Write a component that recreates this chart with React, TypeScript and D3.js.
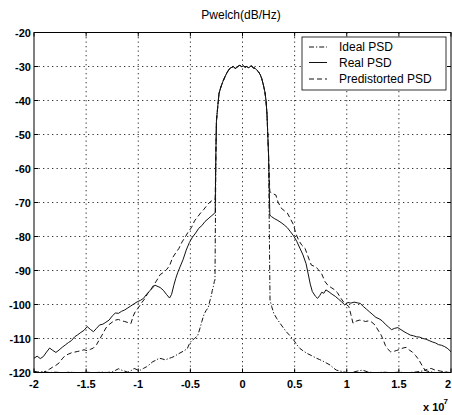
import React from 'react';
import * as d3 from 'd3';

// ---------- data (frequency in units of 1e7 Hz, PSD in dB/Hz) ----------
const X_TICKS = [-2, -1.5, -1, -0.5, 0, 0.5, 1, 1.5, 2];
const X_TICK_LABELS = ['-2', '-1.5', '-1', '-0.5', '0', '0.5', '1', '1.5', '2'];
const Y_TICKS = [-120, -110, -100, -90, -80, -70, -60, -50, -40, -30, -20];
const Y_TICK_LABELS = ['-120', '-110', '-100', '-90', '-80', '-70', '-60', '-50', '-40', '-30', '-20'];
const LEGEND_LABELS = ['Ideal PSD', 'Real PSD', 'Predistorted PSD'];

// shared main lobe
const mainLobe: [number, number][] = [
  [-0.255, -55], [-0.25, -46], [-0.245, -44.3], [-0.235, -41], [-0.225, -37.9], [-0.21, -36.3],
  [-0.2, -35.4], [-0.185, -34.2], [-0.168, -33.0], [-0.145, -31.6], [-0.12, -30.5], [-0.1, -30.2],
  [-0.088, -30.0], [-0.07, -30.6], [-0.056, -30.3], [-0.04, -29.9], [-0.024, -29.6], [-0.01, -30.1],
  [0.008, -29.8], [0.025, -30.2], [0.04, -30.0], [0.06, -30.4], [0.075, -29.9], [0.088, -29.9],
  [0.105, -30.4], [0.12, -30.5], [0.135, -31.0], [0.152, -31.5], [0.17, -32.4], [0.184, -33.5],
  [0.2, -35.4], [0.215, -37.5], [0.225, -39.9], [0.235, -44], [0.242, -49.6], [0.25, -56],
];

// Real PSD skirts
const realLeft: [number, number][] = [
  [-2.0, -115.8], [-1.97, -115.2], [-1.94, -115.9], [-1.91, -115.3], [-1.88, -114.0], [-1.85, -112.8],
  [-1.82, -113.5], [-1.79, -114.1], [-1.76, -113.4], [-1.73, -112.6], [-1.7, -111.9], [-1.67, -111.2],
  [-1.64, -110.6], [-1.61, -109.5], [-1.58, -108.9], [-1.55, -108.2], [-1.52, -107.6], [-1.49, -106.5],
  [-1.46, -107.3], [-1.43, -108.0], [-1.4, -107.0], [-1.37, -106.0], [-1.34, -105.8], [-1.31, -105.2],
  [-1.28, -104.6], [-1.25, -103.4], [-1.22, -102.5], [-1.19, -102.6], [-1.16, -102.0], [-1.13, -101.6],
  [-1.1, -101.0], [-1.07, -100.4], [-1.04, -99.8], [-1.01, -99.2], [-0.98, -98.8], [-0.95, -98.2],
  [-0.92, -97.0], [-0.89, -96.0], [-0.86, -95.0], [-0.84, -94.3], [-0.82, -94.6], [-0.79, -95.0],
  [-0.76, -95.8], [-0.73, -97.0], [-0.7, -98.1], [-0.68, -97.0], [-0.66, -94.5], [-0.64, -92.3],
  [-0.62, -90.5], [-0.6, -89.0], [-0.57, -86.8], [-0.54, -84.0], [-0.51, -81.8], [-0.48, -80.2],
  [-0.45, -79.0], [-0.42, -77.6], [-0.39, -76.8], [-0.36, -75.6], [-0.33, -74.8], [-0.3, -74.0],
  [-0.27, -73.2], [-0.262, -73.0],
];
const realRight: [number, number][] = [
  [0.262, -73.7], [0.28, -74.2], [0.31, -74.8], [0.34, -75.3], [0.37, -75.9], [0.4, -76.6],
  [0.43, -77.4], [0.46, -78.6], [0.49, -79.8], [0.52, -81.4], [0.55, -83.4], [0.58, -85.4],
  [0.61, -88.0], [0.63, -91.0], [0.65, -94.0], [0.67, -96.2], [0.7, -97.6], [0.72, -98.2],
  [0.74, -97.4], [0.76, -96.4], [0.78, -96.7], [0.8, -95.7], [0.83, -96.3], [0.86, -97.0],
  [0.89, -97.6], [0.92, -98.4], [0.95, -99.2], [0.98, -100.1], [1.01, -99.4], [1.04, -99.6],
  [1.07, -99.3], [1.1, -99.5], [1.13, -99.7], [1.16, -100.6], [1.19, -101.4], [1.22, -102.2],
  [1.25, -103.0], [1.28, -103.8], [1.31, -104.2], [1.34, -104.8], [1.37, -105.8], [1.4, -106.6],
  [1.43, -107.4], [1.46, -107.0], [1.49, -106.8], [1.52, -107.4], [1.55, -108.0], [1.58, -108.5],
  [1.61, -109.0], [1.64, -109.2], [1.67, -109.5], [1.7, -109.6], [1.73, -110.0], [1.76, -110.2],
  [1.79, -110.6], [1.82, -111.0], [1.85, -111.3], [1.88, -111.8], [1.91, -112.0], [1.94, -112.4],
  [1.97, -113.0], [2.0, -113.9],
];

// Predistorted PSD skirts
const preLeft: [number, number][] = [
  [-2.0, -119.8], [-1.97, -120.0], [-1.94, -119.6], [-1.91, -120.0], [-1.88, -119.5], [-1.85, -119.0],
  [-1.82, -118.4], [-1.79, -117.9], [-1.76, -117.2], [-1.73, -116.0], [-1.7, -115.0], [-1.67, -114.6],
  [-1.64, -114.2], [-1.61, -114.0], [-1.58, -113.8], [-1.55, -113.6], [-1.52, -113.3], [-1.49, -113.6],
  [-1.46, -113.2], [-1.43, -112.8], [-1.4, -111.8], [-1.37, -110.2], [-1.34, -108.6], [-1.31, -106.9],
  [-1.28, -105.9], [-1.25, -105.2], [-1.22, -104.6], [-1.19, -104.4], [-1.16, -104.8], [-1.13, -105.0],
  [-1.1, -105.3], [-1.07, -105.6], [-1.05, -103.5], [-1.03, -102.2], [-1.0, -101.0], [-0.97, -99.6],
  [-0.94, -98.4], [-0.91, -96.8], [-0.88, -95.6], [-0.85, -94.2], [-0.82, -92.8], [-0.79, -91.2],
  [-0.76, -90.6], [-0.73, -89.8], [-0.7, -88.6], [-0.67, -86.2], [-0.64, -84.8], [-0.61, -83.5],
  [-0.58, -81.6], [-0.55, -80.2], [-0.52, -78.6], [-0.49, -77.4], [-0.46, -75.4], [-0.43, -74.2],
  [-0.4, -73.0], [-0.37, -72.0], [-0.34, -70.8], [-0.31, -69.8], [-0.28, -69.2], [-0.262, -69.0],
];
const preRight: [number, number][] = [
  [0.262, -66.8], [0.29, -67.4], [0.32, -67.8], [0.34, -69.8], [0.37, -71.6], [0.4, -72.4],
  [0.43, -73.1], [0.46, -74.8], [0.49, -76.6], [0.51, -79.0], [0.54, -81.2], [0.57, -82.6],
  [0.6, -83.5], [0.63, -86.0], [0.66, -88.4], [0.7, -88.9], [0.73, -89.8], [0.76, -91.0],
  [0.79, -93.2], [0.82, -94.4], [0.85, -95.0], [0.88, -95.6], [0.91, -96.5], [0.94, -98.0],
  [0.97, -99.3], [1.0, -100.1], [1.02, -100.6], [1.04, -103.0], [1.06, -105.5], [1.09, -104.9],
  [1.12, -104.6], [1.15, -104.7], [1.18, -105.0], [1.21, -104.8], [1.24, -105.2], [1.27, -106.0],
  [1.3, -107.5], [1.33, -109.0], [1.35, -110.4], [1.37, -112.0], [1.39, -113.0], [1.42, -113.9],
  [1.45, -113.8], [1.48, -113.5], [1.51, -113.2], [1.54, -112.8], [1.57, -112.6], [1.6, -113.4],
  [1.63, -114.0], [1.66, -115.0], [1.69, -116.2], [1.72, -117.8], [1.75, -119.3], [1.78, -119.0],
  [1.81, -118.8], [1.84, -119.2], [1.87, -119.4], [1.9, -119.6], [1.94, -119.8], [1.97, -120.0],
  [2.0, -120.0],
];

// Ideal PSD skirts
const idealLeft: [number, number][] = [
  [-2.0, -119.6], [-1.95, -120.0], [-1.9, -119.8], [-1.85, -120.0], [-1.8, -119.9], [-1.75, -120.0],
  [-1.7, -120.0], [-1.65, -119.9], [-1.6, -120.0], [-1.55, -120.0], [-1.5, -119.9], [-1.45, -120.0],
  [-1.4, -120.0], [-1.35, -119.9], [-1.3, -120.0], [-1.25, -119.8], [-1.22, -119.4], [-1.19, -118.9],
  [-1.16, -119.3], [-1.13, -119.6], [-1.1, -119.9], [-1.07, -119.5], [-1.04, -118.8], [-1.01, -119.2],
  [-0.98, -119.3], [-0.95, -118.8], [-0.92, -118.3], [-0.89, -117.6], [-0.86, -116.8], [-0.83, -116.4],
  [-0.8, -115.8], [-0.77, -116.0], [-0.74, -116.3], [-0.71, -115.9], [-0.68, -115.6], [-0.65, -115.2],
  [-0.62, -114.6], [-0.59, -114.1], [-0.56, -113.6], [-0.53, -113.0], [-0.51, -111.6], [-0.49, -110.7],
  [-0.46, -110.0], [-0.43, -109.2], [-0.41, -107.2], [-0.39, -105.0], [-0.37, -103.0], [-0.35, -101.8],
  [-0.33, -101.0], [-0.31, -98.6], [-0.3, -97.5], [-0.29, -95.9], [-0.28, -94.8], [-0.27, -93.2],
  [-0.264, -92.8],
];
const idealRight: [number, number][] = [
  [0.264, -98.7], [0.28, -100.6], [0.3, -102.6], [0.33, -104.2], [0.36, -105.5], [0.39, -106.8],
  [0.42, -108.0], [0.45, -109.0], [0.49, -110.4], [0.52, -111.8], [0.55, -112.9], [0.58, -113.6],
  [0.62, -114.4], [0.66, -115.0], [0.71, -115.8], [0.74, -116.2], [0.78, -116.8], [0.81, -117.3],
  [0.84, -117.8], [0.87, -118.6], [0.9, -119.3], [0.94, -119.6], [0.97, -119.8], [1.0, -120.0],
  [1.05, -120.0], [1.1, -119.6], [1.15, -119.3], [1.2, -119.8], [1.25, -120.0], [1.3, -120.0],
  [1.35, -119.9], [1.4, -120.0], [1.45, -120.0], [1.5, -119.9], [1.55, -120.0], [1.6, -120.0],
  [1.65, -119.9], [1.7, -119.7], [1.75, -119.4], [1.8, -119.8], [1.85, -120.0], [1.9, -120.0],
  [1.95, -119.9], [2.0, -120.0],
];

// ---------- layout ----------
const W = 452;
const H = 415;
const PL = 34, PR = 451, PT = 32.5, PB = 372.5;
const FONT = 'Arial, "Liberation Sans", Helvetica, sans-serif';

export default function App() {
  const x = d3.scaleLinear().domain([-2, 2]).range([PL, PR]);
  const y = d3.scaleLinear().domain([-120, -20]).range([PB, PT]);
  const line = d3.line<[number, number]>().x(d => x(d[0])).y(d => y(d[1]));

  const series = [
    { name: LEGEND_LABELS[0], data: [...idealLeft, ...mainLobe, ...idealRight], dash: '5,2,1.2,2' },
    { name: LEGEND_LABELS[1], data: [...realLeft, ...mainLobe, ...realRight], dash: undefined },
    { name: LEGEND_LABELS[2], data: [...preLeft, ...mainLobe, ...preRight], dash: '5,3' },
  ];

  const legX = 302, legY = 37, legW = 144, legH = 53;
  const legRows = [47, 62.5, 79];

  return (
    <svg width={W} height={H} style={{ position: 'absolute', left: 0, top: 0, background: '#fff' }}
      fontFamily={FONT}>
      <defs>
        <clipPath id="plotClip">
          <rect x={PL} y={PT} width={PR - PL} height={PB - PT} />
        </clipPath>
      </defs>
      <rect x={0} y={0} width={W} height={H} fill="#fff" />

      {/* grid */}
      <g stroke="#000" strokeWidth={0.8} strokeDasharray="1.3,3.2">
        {X_TICKS.slice(1, -1).map(t => (
          <line key={'gx' + t} x1={x(t)} x2={x(t)} y1={PT} y2={PB} />
        ))}
        {Y_TICKS.slice(1, -1).map(t => (
          <line key={'gy' + t} x1={PL} x2={PR} y1={y(t)} y2={y(t)} />
        ))}
      </g>

      {/* curves */}
      <g clipPath="url(#plotClip)" fill="none" stroke="#111" strokeWidth={1}>
        {series.map(s => (
          <path key={s.name} d={line(s.data) || ''} strokeDasharray={s.dash} strokeLinejoin="round" />
        ))}
      </g>

      {/* box and ticks */}
      <rect x={PL} y={PT} width={PR - PL} height={PB - PT} fill="none" stroke="#000" strokeWidth={1} />
      <g stroke="#000" strokeWidth={1}>
        {X_TICKS.map(t => (
          <g key={'tx' + t}>
            <line x1={x(t)} x2={x(t)} y1={PB} y2={PB - 4} />
            <line x1={x(t)} x2={x(t)} y1={PT} y2={PT + 4} />
          </g>
        ))}
        {Y_TICKS.map(t => (
          <g key={'ty' + t}>
            <line x1={PL} x2={PL + 4} y1={y(t)} y2={y(t)} />
            <line x1={PR} x2={PR - 4} y1={y(t)} y2={y(t)} />
          </g>
        ))}
      </g>

      {/* tick labels */}
      <g fontSize={11} fontWeight="bold" fill="#000">
        {X_TICKS.map((t, i) => (
          <text key={'lx' + t} x={i === X_TICKS.length - 1 ? Math.min(x(t), W - 4) : x(t)} y={387.5}
            textAnchor="middle">{X_TICK_LABELS[i]}</text>
        ))}
        {Y_TICKS.map((t, i) => (
          <text key={'ly' + t} x={31} y={y(t) + 4} textAnchor="end">{Y_TICK_LABELS[i]}</text>
        ))}
        <text x={423} y={411}>x 10</text>
        <text x={443.5} y={404} fontSize={8}>7</text>
      </g>

      {/* title */}
      <text x={241} y={19} textAnchor="middle" fontSize={12} fill="#000">Pwelch(dB/Hz)</text>

      {/* legend */}
      <rect x={legX} y={legY} width={legW} height={legH} fill="#fff" stroke="#000" strokeWidth={0.8} />
      {series.map((s, i) => (
        <g key={'leg' + s.name}>
          <line x1={309} x2={327} y1={legRows[i]} y2={legRows[i]} stroke="#111" strokeWidth={1}
            strokeDasharray={s.dash} />
          <text x={339} y={legRows[i] + 4} fontSize={12} fill="#000">{s.name}</text>
        </g>
      ))}
    </svg>
  );
}
